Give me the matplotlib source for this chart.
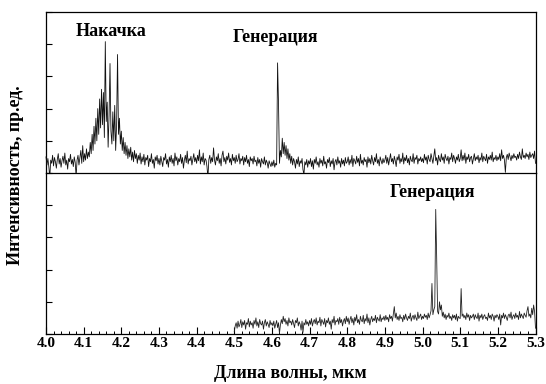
import matplotlib
matplotlib.use("Agg")
import matplotlib.pyplot as plt
from matplotlib.ticker import MultipleLocator
import numpy as np

plt.rcParams['font.family'] = ['Liberation Serif', 'DejaVu Serif']
plt.rcParams['font.weight'] = 'bold'

# upper spectrum (pump + generation at 4.6 um): 4.0000 ... 5.3000 um, step 0.0025
upper_start, upper_step = 4.0, 0.0025
upper_vals = [
    # 4.0
    0.50, 0.25, 0.45, 0.20, -0.15, 0.40, 0.30, 0.55, 0.22, 0.48, 0.35, 0.15, 0.42, 0.60, 0.28, 0.45, 0.18, 0.38, 0.52, 0.30,
    0.62, 0.25, 0.40, 0.12, 0.45, 0.35, 0.58, 0.28, 0.42, 0.20, 0.50, 0.33, -0.10, 0.40, 0.55, 0.25, 0.48, 0.70, 0.30, 0.85,
    # 4.1
    0.35, 0.60, 0.40, 0.75, 0.45, 0.65, 0.50, 0.95, 0.60, 1.20, 0.70, 1.45, 0.90, 1.70, 1.00, 2.00, 1.20, 2.30, 1.40, 2.60,
    1.50, 2.50, 1.10, 4.08, 1.60, 2.20, 0.80, 1.80, 3.40, 1.30, 0.90, 1.90, 1.00, 2.10, 0.70, 1.50, 3.68, 1.20, 1.70, 0.90,
    # 4.2
    1.30, 0.70, 1.10, 0.60, 0.95, 0.55, 0.85, 0.45, 0.75, 0.50, 0.80, 0.40, 0.65, 0.35, 0.70, 0.45, 0.60, 0.30, 0.55, 0.40,
    0.62, 0.28, 0.50, 0.35, 0.58, 0.25, 0.48, 0.40, 0.55, 0.20, 0.45, 0.35, 0.60, 0.30, 0.42, 0.15, 0.50, 0.38, 0.55, 0.28,
    # 4.3
    0.45, 0.25, 0.52, 0.35, 0.20, 0.48, 0.40, 0.60, 0.28, 0.42, 0.18, 0.50, 0.35, 0.55, 0.30, 0.45, 0.22, 0.62, 0.38, 0.50,
    0.25, 0.45, 0.35, 0.58, 0.30, 0.48, 0.15, 0.40, 0.55, 0.32, 0.68, 0.28, 0.45, 0.38, 0.52, 0.25, 0.42, 0.60, 0.35, 0.48,
    # 4.4
    0.30, 0.55, 0.38, 0.72, 0.28, 0.50, 0.35, 0.62, 0.25, 0.45, 0.40, 0.20, -0.15, 0.42, 0.55, 0.30, 0.48, 0.35, 0.78, 0.40,
    0.25, 0.50, 0.38, 0.60, 0.30, 0.45, 0.22, 0.55, 0.68, 0.35, 0.48, 0.28, 0.52, 0.40, 0.62, 0.33, 0.45, 0.25, 0.58, 0.38,
    # 4.5
    0.48, 0.30, 0.55, 0.35, 0.42, 0.60, 0.28, 0.45, 0.38, 0.52, 0.25, 0.48, 0.35, 0.55, 0.30, 0.42, 0.20, 0.50, 0.38, 0.45,
    0.28, 0.52, 0.35, 0.40, 0.22, 0.48, 0.30, 0.42, 0.18, 0.45, 0.35, 0.28, 0.50, 0.25, 0.40, 0.32, 0.15, 0.38, 0.28, 0.20,
    # 4.6
    0.35, 0.22, 0.40, 0.18, 0.30, 0.25, 3.42, 2.15, 0.30, 0.70, 0.50, 1.08, 0.60, 0.95, 0.55, 0.85, 0.45, 0.75, 0.40, 0.60,
    0.30, 0.52, 0.25, 0.45, 0.35, 0.15, 0.42, 0.28, 0.50, 0.20, 0.38, 0.30, 0.45, 0.10, -0.05, 0.35, 0.25, 0.42, 0.18, 0.38,
    # 4.7
    0.28, 0.45, 0.20, 0.38, 0.12, 0.42, 0.30, 0.50, 0.25, 0.35, 0.18, 0.45, 0.30, 0.40, 0.22, 0.52, 0.28, 0.35, 0.15, 0.42,
    0.32, 0.48, 0.20, 0.38, 0.28, 0.45, 0.10, 0.35, 0.42, 0.25, 0.50, 0.30, 0.38, 0.18, 0.45, 0.28, 0.40, 0.22, 0.48, 0.30,
    # 4.8
    0.35, 0.50, 0.25, 0.42, 0.30, 0.55, 0.20, 0.45, 0.38, 0.28, 0.52, 0.33, 0.45, 0.22, 0.58, 0.30, 0.40, 0.25, 0.48, 0.35,
    0.42, 0.18, 0.50, 0.32, 0.45, 0.28, 0.55, 0.38, 0.25, 0.48, 0.35, 0.60, 0.30, 0.42, 0.22, 0.50, 0.38, 0.28, 0.45, 0.32,
    # 4.9
    0.40, 0.55, 0.30, 0.48, 0.25, 0.42, 0.60, 0.35, 0.45, 0.28, 0.52, 0.38, 0.20, 0.50, 0.40, 0.58, 0.30, 0.45, 0.35, 0.62,
    0.28, 0.48, 0.38, 0.55, 0.32, 0.45, 0.25, 0.52, 0.40, 0.35, 0.60, 0.30, 0.48, 0.42, 0.55, 0.28, 0.45, 0.38, 0.50, 0.35,
    # 5.0
    0.45, 0.32, 0.58, 0.40, 0.50, 0.28, 0.55, 0.42, 0.35, 0.60, 0.45, 0.30, 0.52, 0.75, 0.38, 0.48, 0.25, 0.55, 0.42, 0.35,
    0.60, 0.40, 0.50, 0.30, 0.58, 0.45, 0.38, 0.52, 0.28, 0.48, 0.42, 0.62, 0.35, 0.55, 0.45, 0.30, 0.50, 0.40, 0.58, 0.35,
    # 5.1
    0.45, 0.72, 0.38, 0.55, 0.40, 0.62, 0.30, 0.50, 0.42, 0.58, 0.35, 0.48, 0.52, 0.28, 0.45, 0.60, 0.38, 0.50, 0.42, 0.55,
    0.32, 0.48, 0.40, 0.62, 0.35, 0.52, 0.45, 0.38, 0.58, 0.30, 0.50, 0.42, 0.55, 0.40, 0.65, 0.35, 0.48, 0.42, 0.55, 0.38,
    # 5.2
    0.50, 0.42, 0.60, 0.38, 0.72, 0.45, 0.55, 0.40, 0.02, 0.48, 0.58, 0.42, 0.62, 0.50, 0.38, 0.55, 0.45, 0.60, 0.48, 0.52,
    0.40, 0.58, 0.45, 0.65, 0.50, 0.42, 0.75, 0.48, 0.55, 0.45, 0.62, 0.50, 0.58, 0.42, 0.65, 0.48, 0.55, 0.60, 0.45, 0.68,
    # 5.3
    0.30,
]

# lower spectrum (generation at 5.03 um): 4.5000 ... 5.3000 um, step 0.0025
lower_start, lower_step = 4.5, 0.0025
lower_vals = [
    # 4.5
    0.08, 0.25, 0.35, 0.18, 0.40, 0.22, 0.30, 0.45, 0.20, 0.38, 0.28, 0.42, 0.15, 0.35, 0.30, 0.48, 0.22, 0.40, 0.28, 0.35,
    0.18, 0.42, 0.30, 0.50, 0.25, 0.38, 0.20, 0.45, 0.32, 0.28, 0.40, 0.15, 0.35, 0.45, 0.25, 0.38, 0.30, 0.20, 0.42, 0.28,
    # 4.6
    0.35, 0.25, 0.40, 0.18, 0.30, 0.42, 0.20, 0.35, 0.02, 0.28, 0.45, 0.32, 0.55, 0.38, 0.48, 0.30, 0.42, 0.25, 0.50, 0.35,
    0.40, 0.28, 0.45, 0.32, 0.20, 0.42, 0.35, 0.50, 0.25, 0.38, 0.30, 0.12, 0.40, 0.05, 0.35, 0.28, 0.45, 0.30, 0.38, 0.25,
    # 4.7
    0.42, 0.30, 0.48, 0.25, 0.38, 0.45, 0.32, 0.50, 0.28, 0.40, 0.35, 0.52, 0.25, 0.45, 0.38, 0.30, 0.48, 0.22, 0.42, 0.35,
    0.50, 0.30, 0.40, 0.15, 0.45, 0.35, 0.55, 0.28, 0.42, 0.38, 0.48, 0.30, 0.52, 0.35, 0.45, 0.25, 0.40, 0.48, 0.32, 0.55,
    # 4.8
    0.38, 0.50, 0.30, 0.45, 0.55, 0.35, 0.48, 0.28, 0.52, 0.40, 0.60, 0.35, 0.45, 0.30, 0.55, 0.42, 0.38, 0.58, 0.32, 0.48,
    0.40, 0.62, 0.35, 0.50, 0.28, 0.45, 0.55, 0.38, 0.48, 0.42, 0.58, 0.35, 0.52, 0.45, 0.40, 0.60, 0.38, 0.50, 0.45, 0.55,
    # 4.9
    0.42, 0.58, 0.45, 0.52, 0.38, 0.60, 0.48, 0.55, 0.40, 0.62, 0.85, 0.50, 0.65, 0.45, 0.55, 0.42, 0.60, 0.48, 0.52, 0.38,
    0.58, 0.45, 0.62, 0.50, 0.42, 0.55, 0.48, 0.65, 0.40, 0.52, 0.58, 0.45, 0.60, 0.50, 0.42, 0.68, 0.48, 0.55, 0.62, 0.45,
    # 5.0
    0.55, 0.48, 0.62, 0.52, 0.58, 0.45, 0.65, 0.50, 0.60, 0.72, 1.57, 0.60, 0.75, 0.85, 3.87, 2.40, 0.70, 0.62, 1.00, 0.75,
    0.90, 0.55, 0.68, 0.50, 0.62, 0.45, 0.58, 0.52, 0.65, 0.48, 0.55, 0.42, 0.60, 0.50, 0.58, 0.45, 0.62, 0.40, 0.55, 0.50,
    # 5.1
    0.48, 1.41, 0.55, 0.62, 0.50, 0.58, 0.45, 0.65, 0.52, 0.60, 0.42, 0.58, 0.50, 0.55, 0.62, 0.45, 0.60, 0.52, 0.48, 0.65,
    0.40, 0.58, 0.50, 0.62, 0.45, 0.55, 0.60, 0.48, 0.52, 0.42, 0.65, 0.50, 0.58, 0.45, 0.62, 0.55, 0.40, 0.58, 0.50, 0.60,
    # 5.2
    0.55, 0.45, 0.62, 0.28, 0.58, 0.50, 0.65, 0.48, 0.60, 0.52, 0.42, 0.58, 0.62, 0.50, 0.68, 0.45, 0.55, 0.60, 0.48, 0.65,
    0.52, 0.58, 0.45, 0.70, 0.50, 0.62, 0.55, 0.48, 0.65, 0.58, 0.52, 0.72, 0.85, 0.55, 0.62, 0.50, 0.80, 0.60, 0.90, 0.70,
    # 5.3
    0.18,
]

xtick_labels = ['4.0', '4.1', '4.2', '4.3', '4.4', '4.5', '4.6', '4.7',
                '4.8', '4.9', '5.0', '5.1', '5.2', '5.3']

upper_x = upper_start + upper_step * np.arange(len(upper_vals))
lower_x = lower_start + lower_step * np.arange(len(lower_vals))

W, H = 546, 384
fig = plt.figure(figsize=(W / 100, H / 100), dpi=100)
left, right = 46 / W, 535.5 / W
top, mid, bot = 12, 173, 334
ax1 = fig.add_axes([left, 1 - mid / H, right - left, (mid - top) / H])
ax2 = fig.add_axes([left, 1 - bot / H, right - left, (bot - mid) / H])

ax1.plot(upper_x, upper_vals, color='#111111', lw=0.6, clip_on=False, zorder=3)
ax2.plot(lower_x, lower_vals, color='#222222', lw=0.6)

for ax in (ax1, ax2):
    ax.set_xlim(4.0, 5.3)
    ax.set_ylim(0, 5)
    ax.yaxis.set_major_locator(MultipleLocator(1))
    ax.set_yticklabels([])
    ax.tick_params(axis='y', direction='in', length=4, width=0.8, left=True, right=False)
    for s in ax.spines.values():
        s.set_linewidth(0.9)

ax1.tick_params(axis='x', bottom=False, labelbottom=False)
ax1.spines['bottom'].set_visible(False)

ax2.xaxis.set_minor_locator(MultipleLocator(0.02))
ax2.set_xticks(np.arange(len(xtick_labels)) * 0.1 + 4.0)
ax2.set_xticklabels(xtick_labels, fontsize=11, fontweight='bold')
ax2.tick_params(axis='x', which='major', direction='in', length=5, width=0.8, pad=2)
ax2.tick_params(axis='x', which='minor', direction='in', length=2.5, width=0.7)

ax2.set_xlabel('Длина волны, мкм', fontsize=13, fontweight='bold', labelpad=11)
fig.text(0.028, 1 - 175 / H, 'Интенсивность, пр.ед.', rotation=90, fontsize=13,
         fontweight='bold', ha='center', va='center')

ax1.text(4.172, 4.4, 'Накачка', fontsize=13, fontweight='bold', ha='center', va='center')
ax1.text(4.608, 4.2, 'Генерация', fontsize=13, fontweight='bold', ha='center', va='center')
ax2.text(5.026, 4.38, 'Генерация', fontsize=13, fontweight='bold', ha='center', va='center')

fig.savefig('out.png', dpi=100)
